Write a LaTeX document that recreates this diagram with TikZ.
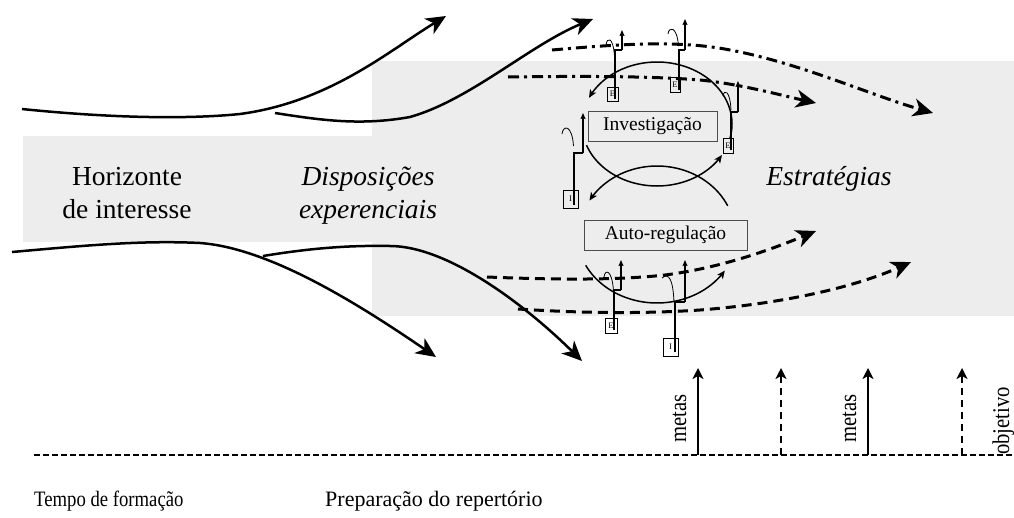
\documentclass[tikz,border=0pt]{standalone}
\usepackage{fontspec}
\usepackage{graphicx}
\setmainfont{Liberation Serif}
\usetikzlibrary{arrows.meta}
\begin{document}
\begin{tikzpicture}[x=1pt,y=-1pt,
  bighead/.tip={Stealth[length=20pt,width=18pt,inset=6pt]},
  bigarrow/.style={line width=2.5pt,-bighead},
  dashdotarrow/.style={line width=3pt,dash pattern=on 11pt off 5pt on 3pt off 5pt,-bighead},
  dasharrow/.style={line width=3pt,dash pattern=on 10pt off 6pt,-bighead},
  cyclearc/.style={line width=1.5pt,-{Stealth[length=8pt,width=7pt,inset=2pt]}},
  markbox/.style={draw,line width=0.8pt,inner sep=0pt,font=\fontsize{8.5}{9}\selectfont},
  stepline/.style={line width=2pt},
  steparrow/.style={line width=1.5pt,-{Stealth[length=6pt,width=5pt,inset=1pt]}},
  hookline/.style={line width=0.8pt},
  labelbox/.style={draw=black!70,line width=0.9pt,inner sep=0pt,font=\fontsize{19.5}{22}\selectfont},
  bigtext/.style={font=\fontsize{27.5}{32}\selectfont,anchor=base},
  bigital/.style={font=\fontsize{27.5}{32}\selectfont\itshape,anchor=base},
  smalltext/.style={font=\fontsize{22}{26}\selectfont,anchor=base west,inner sep=0pt},
  goalarrow/.style={line width=2.4pt,-{Stealth[length=11pt,width=11pt,inset=3pt]}},
  goaldash/.style={goalarrow,dash pattern=on 7pt off 5pt},
  goaltext/.style={font=\fontsize{24}{26}\selectfont,rotate=90,anchor=base west,inner sep=0pt},
  band/.style={fill=black!7,draw=none}
]
\useasboundingbox (0,0) rectangle (1014,517);
% gray bands
\fill[band] (23,136) rectangle (372,242);
\fill[band] (372,61) rectangle (1014,316);

% labels
\node[bigtext] (hor1) at (127,185) {Horizonte};
\node[bigtext] (hor2) at (127,218) {de interesse};
\node[bigital] (dis1) at (368,185) {Disposições};
\node[bigital] (dis2) at (368,218) {experenciais};
\node[bigital] (est) at (829,185) {Estratégias};

% big solid arrows
\coordinate (a1s) at (22,109);  \coordinate (a1e) at (446,16);
\coordinate (a2s) at (275,113); \coordinate (a2e) at (593,19);
\coordinate (a3s) at (12,252);  \coordinate (a3e) at (436,357);
\coordinate (a4s) at (263,256); \coordinate (a4e) at (582,361);
\draw[bigarrow] (a1s) .. controls (100,117) and (180,120) .. (240,114) .. controls (330,102) and (390,50) .. (a1e);
\draw[bigarrow] (a2s) .. controls (320,120) and (360,126) .. (410,117) .. controls (470,100) and (530,45) .. (a2e);
\draw[bigarrow] (a3s) .. controls (80,246) and (140,240) .. (200,243) .. controls (270,248) and (360,305) .. (a3e);
\draw[bigarrow] (a4s) .. controls (300,250) and (340,245) .. (390,246) .. controls (445,246) and (520,300) .. (a4e);

% dash-dot arrows
\coordinate (d1s) at (552,50);  \coordinate (d1e) at (933,113);
\coordinate (d2s) at (508,77);  \coordinate (d2e) at (816,103);
\draw[dashdotarrow] (d1s) .. controls (620,44) and (680,40) .. (730,50) .. controls (800,63) and (870,95) .. (d1e);
\draw[dashdotarrow] (d2s) .. controls (580,76) and (650,76) .. (700,80) .. controls (740,84) and (780,95) .. (d2e);

% dashed arrows
\coordinate (c1s) at (487,277); \coordinate (c1e) at (816,231);
\coordinate (c2s) at (518,309); \coordinate (c2e) at (911,262);
\draw[dasharrow] (c1s) .. controls (560,280) and (620,280) .. (665,275) .. controls (720,268) and (770,250) .. (c1e);
\draw[dasharrow] (c2s) .. controls (580,313) and (640,314) .. (700,310) .. controls (790,303) and (860,285) .. (c2e);

% boxes
\node[labelbox,minimum width=129pt,minimum height=30pt] (inv) at (652.5,126) {Investigação};
\node[labelbox,minimum width=163pt,minimum height=30pt] (auto) at (665.5,235) {Auto-regulação};

% cycle arcs
\draw[cyclearc] plot[domain=-13:155,samples=50,smooth] ({657+75*cos(\x)},{124-62*sin(\x)});
\draw[cyclearc] plot[domain=200:330,samples=40,smooth] ({657+75*cos(\x)},{124-62*sin(\x)});
\draw[cyclearc] plot[domain=25:150,samples=40,smooth] ({657+78*cos(\x)},{235-69*sin(\x)});
\draw[cyclearc] plot[domain=207:328,samples=40,smooth] ({657+80*cos(\x)},{234-69*sin(\x)});

% markers
\node[markbox,minimum width=11pt,minimum height=14pt] (m1) at (612.5,94) {E};
\draw[stepline] (614.5,99) |- (622,50);
\draw[steparrow] (622,50) -- (622,30);
\draw[hookline] (606,45) .. controls (607,37) and (613,36) .. (614.5,56);

\node[markbox,minimum width=10pt,minimum height=15pt] (m2) at (675,84.5) {E};
\draw[stepline] (678.5,90) |- (685,50);
\draw[steparrow] (685,50) -- (685,19);
\draw[hookline] (668,34) .. controls (669,26) and (677,26) .. (678.5,46);

\node[markbox,minimum width=10pt,minimum height=15pt] (m3) at (728,145.5) {E};
\draw[stepline] (731,150) |- (738,112);
\draw[steparrow] (738,112) -- (738,81);
\draw[hookline] (723,96) .. controls (724,89) and (730,90) .. (731,110);

\node[markbox,minimum width=15pt,minimum height=18pt] (m4) at (570.5,199) {I};
\draw[stepline] (574,205) |- (583,153);
\draw[steparrow] (583,153) -- (583,113);
\draw[hookline] (562,134) .. controls (563,125) and (572,124) .. (573.5,146);

\node[markbox,minimum width=12pt,minimum height=15pt] (m5) at (611,325.5) {E};
\draw[stepline] (614,330) |- (621,290);
\draw[steparrow] (621,290) -- (621,260);
\draw[hookline] (604,277) .. controls (605,269) and (612,269) .. (613.5,291);

\node[markbox,minimum width=15pt,minimum height=18pt] (m6) at (670.5,347) {I};
\draw[stepline] (675,352) |- (685,302);
\draw[steparrow] (685,302) -- (685,260);
\draw[hookline] (662,278) .. controls (669,272) and (673,280) .. (674,302);

% time line
\coordinate (tl0) at (34,455); \coordinate (tl1) at (1014,455);
\draw[line width=2pt,dash pattern=on 6pt off 3pt] (tl0) -- (tl1);
\coordinate (g1b) at (698,455); \coordinate (g1t) at (698,368);
\coordinate (g2b) at (781,455); \coordinate (g2t) at (781,368);
\coordinate (g3b) at (868,455); \coordinate (g3t) at (868,368);
\coordinate (g4b) at (962,455); \coordinate (g4t) at (962,368);
\draw[goalarrow] (g1b) -- (g1t);
\draw[goaldash] (g2b) -- (g2t);
\draw[goalarrow] (g3b) -- (g3t);
\draw[goaldash] (g4b) -- (g4t);
\node[goaltext] (met1) at (686,443) {\scalebox{0.86}[1]{metas}};
\node[goaltext] (met2) at (856,443) {\scalebox{0.86}[1]{metas}};
\node[goaltext] (obj) at (1009,455) {\scalebox{0.86}[1]{objetivo}};

\node[smalltext] (tempo) at (34,506) {\scalebox{0.85}[1]{Tempo de formação}};
\node[smalltext] (prep) at (325,506) {Preparação do repertório};
\end{tikzpicture}
\end{document}
